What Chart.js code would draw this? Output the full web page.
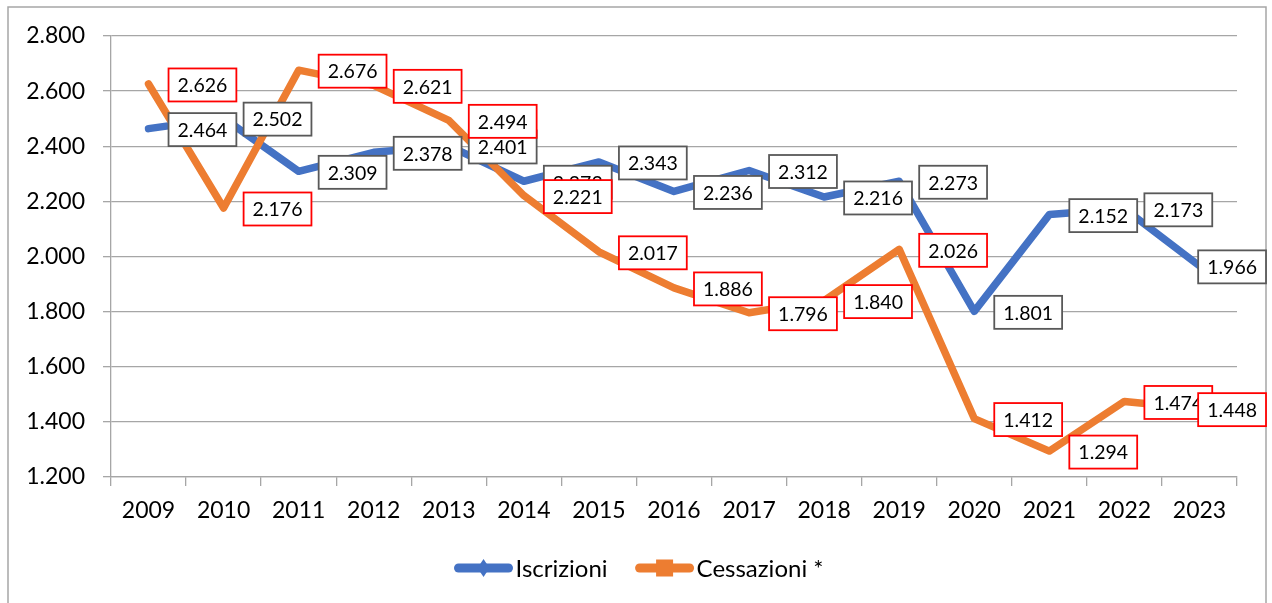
<!DOCTYPE html>
<html><head><meta charset="utf-8">
<script src="https://cdn.jsdelivr.net/npm/chart.js@4/dist/chart.umd.min.js"></script>
<style>html,body{margin:0;padding:0;background:#fff;overflow:hidden}
#wrap{position:relative;width:1272px;height:603px}</style></head>
<body><div id="wrap"><canvas id="c" width="1272" height="603"></canvas></div>
<script>
const years = ['2009','2010','2011','2012','2013','2014','2015','2016','2017','2018','2019','2020','2021','2022','2023'];
const iscrizioni = [2464,2502,2309,2378,2401,2273,2343,2236,2312,2216,2273,1801,2152,2173,1966];
const cessazioni = [2626,2176,2676,2621,2494,2221,2017,1886,1796,1840,2026,1412,1294,1474,1448];
const seriesNames = ['Iscrizioni','Cessazioni *'];
const yMin = 1200, yMax = 2800, yStep = 200;

const BLUE = '#4472C4', ORANGE = '#ED7D31', GRID = '#a6a6a6';
const FONT = 'Lato, "Open Sans", sans-serif';

function fmt(v){
  const s = String(Math.round(v));
  return s.length > 3 ? s.slice(0, -3) + '.' + s.slice(-3) : s;
}

const borderPlugin = {
  id: 'outerBorder',
  beforeDraw(chart){
    const ctx = chart.ctx;
    ctx.save();
    ctx.fillStyle = '#fff';
    ctx.fillRect(0, 0, chart.width, chart.height);
    ctx.strokeStyle = GRID;
    ctx.lineWidth = 1.5;
    ctx.strokeRect(8, 7, 1258, 700);
    ctx.restore();
  }
};

const labelPlugin = {
  id: 'boxLabels',
  afterDatasetsDraw(chart){
    const ctx = chart.ctx;
    ctx.save();
    ctx.font = '19.5px ' + FONT;
    ctx.textBaseline = 'middle';
    ctx.textAlign = 'center';
    chart.data.datasets.forEach((ds, di) => {
      const meta = chart.getDatasetMeta(di);
      meta.data.forEach((pt, i) => {
        const txt = fmt(ds.data[i]);
        const tw = ctx.measureText(txt).width;
        const w = tw + 18, h = 33;
        let left = pt.x + 20;
        if (left + w > 1266) left = 1266 - w;
        const top = pt.y + 1 - h / 2;
        ctx.fillStyle = '#fff';
        ctx.fillRect(left, top, w, h);
        ctx.strokeStyle = ds.labelBorder;
        ctx.lineWidth = 1.8;
        ctx.strokeRect(left, top, w, h);
        ctx.fillStyle = '#000';
        ctx.fillText(txt, left + w / 2, top + h / 2 + 1);
      });
    });
    ctx.restore();
  }
};

const legendPlugin = {
  id: 'customLegend',
  afterDraw(chart){
    const ctx = chart.ctx;
    ctx.save();
    ctx.font = '24px ' + FONT;
    ctx.textBaseline = 'middle';
    ctx.textAlign = 'left';
    const cy = 568, lineW = 58, gapTxt = 3, gapItem = 28;
    const items = chart.data.datasets.map(ds => ({ds, tw: ctx.measureText(ds.label).width}));
    let total = 0;
    items.forEach((it, k) => { total += lineW + gapTxt + it.tw + (k ? gapItem : 0); });
    let x = 639 - total / 2;
    items.forEach((it, k) => {
      if (k) x += gapItem;
      const ds = it.ds;
      ctx.strokeStyle = ds.borderColor;
      ctx.lineWidth = 9;
      ctx.lineCap = 'round';
      ctx.beginPath(); ctx.moveTo(x + 4, cy); ctx.lineTo(x + lineW - 4, cy); ctx.stroke();
      const mx = x + lineW / 2;
      ctx.fillStyle = ds.borderColor;
      if (ds.legendMarker === 'diamond'){
        ctx.beginPath();
        ctx.moveTo(mx, cy - 9); ctx.lineTo(mx + 6, cy); ctx.lineTo(mx, cy + 9); ctx.lineTo(mx - 6, cy);
        ctx.closePath(); ctx.fill();
      } else {
        ctx.fillRect(mx - 8.5, cy - 8.5, 17, 17);
      }
      x += lineW + gapTxt;
      ctx.fillStyle = '#000';
      ctx.fillText(ds.label, x, cy + 1);
      x += it.tw;
    });
    ctx.restore();
  }
};

new Chart(document.getElementById('c'), {
  type: 'line',
  data: {
    labels: years,
    datasets: [
      {label: seriesNames[0], data: iscrizioni, borderColor: BLUE, backgroundColor: BLUE,
       borderWidth: 7.5, pointRadius: 0, tension: 0, borderJoinStyle: 'round', borderCapStyle: 'round',
       order: 1, labelBorder: '#595959', legendMarker: 'diamond'},
      {label: seriesNames[1], data: cessazioni, borderColor: ORANGE, backgroundColor: ORANGE,
       borderWidth: 7.5, pointRadius: 0, tension: 0, borderJoinStyle: 'round', borderCapStyle: 'round',
       order: 0, labelBorder: '#ff0000', legendMarker: 'square'}
    ]
  },
  options: {
    responsive: false,
    animation: false,
    devicePixelRatio: 1,
    layout: {padding: {top: 36, right: 35, left: 0, bottom: 0}},
    plugins: {legend: {display: false}, tooltip: {enabled: false}},
    scales: {
      x: {
        type: 'category', offset: true,
        grid: {display: true, drawOnChartArea: false, drawTicks: true, tickLength: 9, color: GRID, lineWidth: 1.3, offset: true},
        border: {display: true, color: GRID, width: 1.3},
        ticks: {font: {family: FONT, size: 23}, color: '#000', padding: 11, maxRotation: 0, autoSkip: false},
        afterFit(s){ s.height = 126; }
      },
      y: {
        min: yMin, max: yMax,
        grid: {color: GRID, lineWidth: 1.3, tickLength: 8},
        border: {display: true, color: GRID, width: 1.3},
        ticks: {stepSize: yStep, callback: v => fmt(v), font: {family: FONT, size: 23}, color: '#000', padding: 18},
        afterFit(s){ s.width = 111; }
      }
    }
  },
  plugins: [borderPlugin, labelPlugin, legendPlugin]
});
</script>
</body></html>
